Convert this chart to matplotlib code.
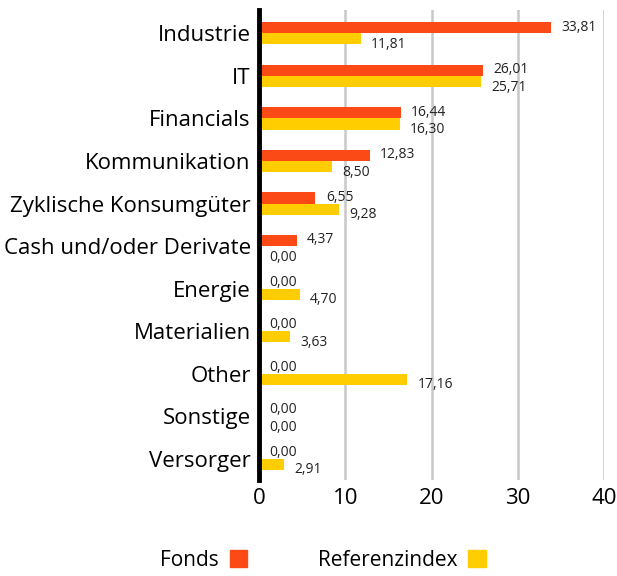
import numpy as np
import matplotlib
matplotlib.use("Agg")
from matplotlib import pyplot as plt
from matplotlib.patches import Patch

categories = ["Industrie", "IT", "Financials", "Kommunikation", "Zyklische Konsumgüter",
              "Cash und/oder Derivate", "Energie", "Materialien", "Other", "Sonstige", "Versorger"]
fonds = [33.81, 26.01, 16.44, 12.83, 6.55, 4.37, 0.00, 0.00, 0.00, 0.00, 0.00]
referenz = [11.81, 25.71, 16.30, 8.50, 9.28, 0.00, 4.70, 3.63, 17.16, 0.00, 2.91]
xticks = [0, 10, 20, 30, 40]

c_fonds = "#fc4a17"
c_ref = "#ffcd00"

plt.rcParams['font.family'] = ['Open Sans', 'DejaVu Sans']

fig = plt.figure(figsize=(6.17, 5.76), dpi=100)
ax = fig.add_axes([259 / 617, 1 - 480 / 576, (604 - 259) / 617, 470 / 576])

y = np.arange(len(categories))
h = 0.26
ax.barh(y - h / 2, fonds, height=h, color=c_fonds, zorder=3)
ax.barh(y + h / 2, referenz, height=h, color=c_ref, zorder=3)

for i in range(len(categories)):
    ax.annotate(f"{fonds[i]:.2f}".replace(".", ","), (fonds[i], y[i] - h / 2),
                xytext=(7.5, 0.5), textcoords="offset points", va="center", ha="left",
                fontsize=10, color="#222222")
    ax.annotate(f"{referenz[i]:.2f}".replace(".", ","), (referenz[i], y[i] + h / 2),
                xytext=(7.5, -4), textcoords="offset points", va="center", ha="left",
                fontsize=10, color="#222222")

ax.set_xlim(0, 40)
ax.set_ylim(len(categories) - 0.5, -0.55)
ax.set_xticks(xticks)
ax.set_yticks(y)
ax.set_yticklabels(categories, fontsize=16)
ax.tick_params(axis="x", labelsize=16, length=0, pad=6)
ax.tick_params(axis="y", length=0, pad=6)
ax.grid(axis="x", color="#c8c8c8", linewidth=1.8, zorder=0)
for s in ["top", "right", "bottom"]:
    ax.spines[s].set_visible(False)
ax.spines["left"].set_linewidth(3.5)
ax.spines["left"].set_color("black")
ax.spines["left"].set_zorder(4)

handles = [Patch(color=c_fonds, label="Fonds"), Patch(color=c_ref, label="Referenzindex")]
fig.legend(handles=handles, loc="center", bbox_to_anchor=(323 / 617, 1 - 560 / 576), ncol=2,
           frameon=False, markerfirst=False, fontsize=15, handlelength=0.85, handleheight=0.85,
           handletextpad=0.5, columnspacing=3.4)

fig.savefig("out.png", dpi=100)
